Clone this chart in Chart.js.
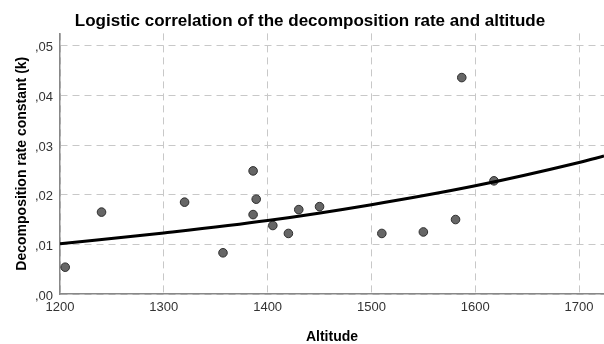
<!DOCTYPE html>
<html>
<head>
<meta charset="utf-8">
<script src="https://cdn.jsdelivr.net/npm/chart.js@4"></script>
<style>
  body { margin: 0; background: #fff; }
  #wrap { width: 604px; height: 344px; position: relative; }
</style>
</head>
<body>
<div id="wrap"><canvas id="chart"></canvas></div>
<script>
// observed points
const altitude = [1205, 1240, 1320, 1357, 1386, 1386, 1389, 1405, 1420, 1430, 1450, 1510, 1550, 1581, 1587, 1618];
const kValues  = [0.0054, 0.0165, 0.0185, 0.0083, 0.0248, 0.0160, 0.0191, 0.0138, 0.0122, 0.0170, 0.0176, 0.0122, 0.0125, 0.0150, 0.0436, 0.0228];

// fitted curve
const curveX = [1200, 1300, 1400, 1500, 1600, 1700, 1724];
const curveY = [0.0101, 0.0123, 0.0148, 0.0180, 0.0218, 0.0265, 0.0278];

const xTicks = [1200, 1300, 1400, 1500, 1600, 1700];
const yTicks = [0, 0.01, 0.02, 0.03, 0.04, 0.05];

const FONT = "'Liberation Sans', Arial, sans-serif";

const points = altitude.map((a, i) => ({ x: a, y: kValues[i] }));
const curve = curveX.map((a, i) => ({ x: a, y: curveY[i] }));

new Chart(document.getElementById("chart"), {
  type: "scatter",
  data: {
    datasets: [
      {
        type: "line",
        data: curve,
        borderColor: "#000",
        borderWidth: 3,
        pointRadius: 0,
        fill: false,
        cubicInterpolationMode: "monotone"
      },
      {
        data: points,
        backgroundColor: "#666",
        borderColor: "#2e2e2e",
        borderWidth: 1,
        pointRadius: 4.3
      }
    ]
  },
  options: {
    responsive: true,
    maintainAspectRatio: false,
    animation: false,
    layout: { autoPadding: false, padding: { left: 16, right: 0, top: 4, bottom: 0 } },
    plugins: {
      legend: { display: false },
      tooltip: { enabled: false },
      title: {
        display: true,
        text: "Logistic correlation of the decomposition rate and altitude",
        color: "#000",
        font: { family: FONT, size: 17, weight: "bold", lineHeight: 1.2 },
        padding: { top: 7, bottom: 2 }
      }
    },
    scales: {
      x: {
        type: "linear",
        min: 1200,
        max: 1724,
        afterFit: s => { s.height = 50; s.paddingRight = 0; s.paddingLeft = 0; },
        afterBuildTicks: s => { s.ticks = xTicks.map(v => ({ value: v })); },
        ticks: {
          includeBounds: false,
          color: "#333",
          padding: 6,
          font: { family: FONT, size: 13 },
          callback: v => String(v)
        },
        grid: { color: "#c8c8c8", lineWidth: 1, drawTicks: false },
        border: { display: true, color: "#888", width: 1.5, dash: [7, 5] },
        title: {
          display: true,
          text: "Altitude",
          color: "#000",
          font: { family: FONT, size: 14, weight: "bold", lineHeight: 1 },
          padding: { top: 0, bottom: 0 }
        }
      },
      y: {
        min: 0,
        max: 0.0525,
        afterFit: s => { s.width = 44; s.paddingTop = 0; s.paddingBottom = 0; },
        afterBuildTicks: s => { s.ticks = yTicks.map(v => ({ value: v })); },
        ticks: {
          includeBounds: false,
          color: "#333",
          padding: 7,
          labelOffset: 2,
          font: { family: FONT, size: 13 },
          callback: v => v.toFixed(2).replace("0.", ",")
        },
        grid: { color: "#c8c8c8", lineWidth: 1, drawTicks: false },
        border: { display: true, color: "#888", width: 1.5, dash: [7, 5] },
        title: {
          display: true,
          text: "Decomposition rate constant (k)",
          color: "#000",
          font: { family: FONT, size: 14, weight: "bold", lineHeight: 1 },
          padding: { top: -1, bottom: 0 }
        }
      }
    }
  }
});
</script>
</body>
</html>
